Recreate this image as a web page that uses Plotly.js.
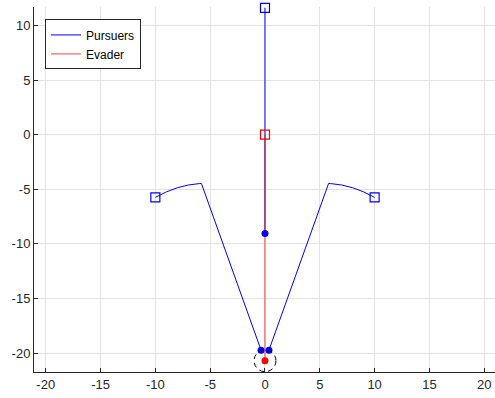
<!DOCTYPE html>
<html>
<head>
<meta charset="utf-8">
<script src="https://cdn.plot.ly/plotly-3.0.1.min.js"></script>
<style>html,body{margin:0;padding:0;background:#fff;}#chart{width:495px;height:398px;}</style>
</head>
<body>
<div id="chart"></div>
<script>
// Pursuer trajectories
const p1X = [0, 0];
const p1Y = [11.6, -9.05];
const p2X = [-10, -9, -8, -7, -6, -5.8, -0.36];
const p2Y = [-5.74, -5.24, -4.86, -4.61, -4.48, -4.47, -19.72];
const p3X = [10, 9, 8, 7, 6, 5.8, 0.36];
const p3Y = [-5.74, -5.24, -4.86, -4.61, -4.48, -4.47, -19.72];
// Evader trajectory
const evX = [0, 0];
const evY = [0, -20.69];
// Capture radius around evader end position
const captureRadius = [1];

const xTicks = [-20, -15, -10, -5, 0, 5, 10, 15, 20];
const yTicks = [-20, -15, -10, -5, 0, 5, 10];

const blue = '#0000ff';
const red = 'rgba(255,0,0,0.6)';
const pursuers = [[p1X, p1Y], [p2X, p2Y], [p3X, p3Y]];

const traces = [];
pursuers.forEach((p, i) => {
  traces.push({x: p[0], y: p[1], mode: 'lines', type: 'scatter', name: 'Pursuers',
    showlegend: i === 0, line: {color: blue, width: 1}, hoverinfo: 'skip'});
});
traces.push({x: evX, y: evY, mode: 'lines', type: 'scatter', name: 'Evader',
  line: {color: red, width: 1.3}, hoverinfo: 'skip'});
// start markers
traces.push({x: pursuers.map(p => p[0][0]), y: pursuers.map(p => p[1][0]), mode: 'markers', type: 'scatter',
  showlegend: false, cliponaxis: false, marker: {symbol: 'square-open', size: 9, color: blue, line: {width: 1.2}}});
traces.push({x: [evX[0]], y: [evY[0]], mode: 'markers', type: 'scatter',
  showlegend: false, cliponaxis: false, marker: {symbol: 'square-open', size: 9, color: '#ff0000', line: {width: 1.2}}});
// end markers
traces.push({x: pursuers.map(p => p[0][p[0].length - 1]), y: pursuers.map(p => p[1][p[1].length - 1]), mode: 'markers', type: 'scatter',
  showlegend: false, cliponaxis: false, marker: {symbol: 'circle', size: 7, color: blue}});
traces.push({x: [evX[evX.length - 1]], y: [evY[evY.length - 1]], mode: 'markers', type: 'scatter',
  showlegend: false, cliponaxis: false, marker: {symbol: 'circle', size: 7, color: '#ff0000'}});

const ex = evX[evX.length - 1], ey = evY[evY.length - 1], r = captureRadius[0];

const axisCommon = {
  showgrid: true, gridcolor: '#e3e3e3', gridwidth: 1, zeroline: false,
  showline: true, linecolor: '#262626', linewidth: 1, mirror: false,
  ticks: 'inside', ticklen: 4, tickcolor: '#262626', tickwidth: 1,
  tickfont: {family: '"Liberation Sans", Arial, sans-serif', size: 13, color: '#262626'},
  tickmode: 'array'
};

const layout = {
  width: 495, height: 398,
  margin: {l: 34, r: 0, t: 7, b: 26, pad: 0},
  paper_bgcolor: '#ffffff', plot_bgcolor: '#ffffff',
  xaxis: Object.assign({}, axisCommon, {range: [-21.07, 20.98], tickvals: xTicks, ticktext: xTicks.map(String)}),
  yaxis: Object.assign({}, axisCommon, {range: [-21.72, 11.68], tickvals: yTicks, ticktext: yTicks.map(String)}),
  showlegend: true,
  legend: {x: 0.024, y: 0.966, xanchor: 'left', yanchor: 'top', bgcolor: '#ffffff',
    bordercolor: '#262626', borderwidth: 1, tracegroupgap: 0,
    font: {family: '"Liberation Sans", Arial, sans-serif', size: 12, color: '#000'}},
  shapes: [{type: 'circle', xref: 'x', yref: 'y', x0: ex - r, x1: ex + r, y0: ey - r, y1: ey + r,
    line: {color: '#000', width: 1, dash: '5px,4px'}}]
};

Plotly.newPlot('chart', traces, layout, {displayModeBar: false, staticPlot: true});
</script>
</body>
</html>
